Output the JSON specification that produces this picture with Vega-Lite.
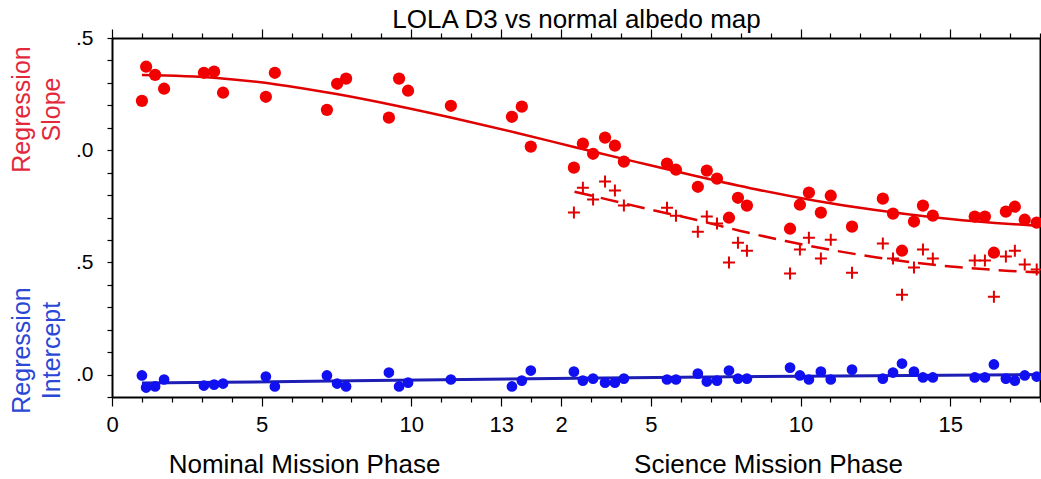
{
  "$schema": "https://vega.github.io/schema/vega-lite/v6.json",
  "autosize": {"type": "none"},
  "padding": {"left": 112, "top": 38, "right": 1, "bottom": 82},
  "width": 928,
  "height": 359,
  "config": {
    "view": {"stroke": null},
    "font": "Liberation Sans",
    "axis": {"domainColor": "black", "domainWidth": 2, "tickColor": "black", "tickWidth": 1.2, "labelColor": "black", "grid": false, "labelFont": "Liberation Sans", "titleFont": "Liberation Sans", "titleFontWeight": "normal", "titleColor": "black"}
  },
  "datasets": {
    "obs": [
      {"t": 1.00, "slope": 1.220, "intercept": -0.004},
      {"t": 1.14, "slope": 1.372, "intercept": -0.058},
      {"t": 1.44, "slope": 1.336, "intercept": -0.053},
      {"t": 1.74, "slope": 1.274, "intercept": -0.022},
      {"t": 3.07, "slope": 1.345, "intercept": -0.049},
      {"t": 3.41, "slope": 1.350, "intercept": -0.045},
      {"t": 3.71, "slope": 1.256, "intercept": -0.040},
      {"t": 5.14, "slope": 1.238, "intercept": -0.009},
      {"t": 5.44, "slope": 1.345, "intercept": -0.053},
      {"t": 7.18, "slope": 1.180, "intercept": -0.004},
      {"t": 7.52, "slope": 1.296, "intercept": -0.040},
      {"t": 7.82, "slope": 1.319, "intercept": -0.053},
      {"t": 9.25, "slope": 1.145, "intercept": 0.009},
      {"t": 9.59, "slope": 1.319, "intercept": -0.053},
      {"t": 9.89, "slope": 1.265, "intercept": -0.036},
      {"t": 11.32, "slope": 1.198, "intercept": -0.022},
      {"t": 13.36, "slope": 1.149, "intercept": -0.053},
      {"t": 13.69, "slope": 1.194, "intercept": -0.027},
      {"t": 13.99, "slope": 1.016, "intercept": 0.018},
      {"t": 15.43, "slope": 0.922, "slope2": 0.722, "intercept": 0.013},
      {"t": 15.73, "slope": 1.029, "slope2": 0.833, "intercept": -0.027},
      {"t": 16.07, "slope": 0.984, "slope2": 0.780, "intercept": -0.018},
      {"t": 16.47, "slope": 1.056, "slope2": 0.860, "intercept": -0.036},
      {"t": 16.80, "slope": 1.020, "slope2": 0.820, "intercept": -0.036},
      {"t": 17.10, "slope": 0.949, "slope2": 0.753, "intercept": -0.018},
      {"t": 18.54, "slope": 0.940, "slope2": 0.744, "intercept": -0.022},
      {"t": 18.84, "slope": 0.913, "slope2": 0.708, "intercept": -0.022},
      {"t": 19.57, "slope": 0.837, "slope2": 0.637, "intercept": 0.004},
      {"t": 19.87, "slope": 0.909, "slope2": 0.704, "intercept": -0.031},
      {"t": 20.21, "slope": 0.873, "slope2": 0.673, "intercept": -0.027},
      {"t": 20.61, "slope": 0.699, "slope2": 0.499, "intercept": 0.018},
      {"t": 20.91, "slope": 0.788, "slope2": 0.588, "intercept": -0.018},
      {"t": 21.21, "slope": 0.753, "slope2": 0.552, "intercept": -0.018},
      {"t": 22.65, "slope": 0.650, "slope2": 0.450, "intercept": 0.031},
      {"t": 22.98, "slope": 0.757, "slope2": 0.557, "intercept": -0.004},
      {"t": 23.28, "slope": 0.811, "slope2": 0.610, "intercept": -0.022},
      {"t": 23.68, "slope": 0.722, "slope2": 0.517, "intercept": 0.013},
      {"t": 24.01, "slope": 0.797, "slope2": 0.601, "intercept": -0.022},
      {"t": 24.72, "slope": 0.659, "slope2": 0.454, "intercept": 0.022},
      {"t": 25.75, "slope": 0.784, "slope2": 0.584, "intercept": -0.018},
      {"t": 26.09, "slope": 0.717, "slope2": 0.517, "intercept": 0.009},
      {"t": 26.39, "slope": 0.552, "slope2": 0.356, "intercept": 0.049},
      {"t": 26.79, "slope": 0.682, "slope2": 0.477, "intercept": 0.013},
      {"t": 27.09, "slope": 0.753, "slope2": 0.557, "intercept": -0.013},
      {"t": 27.42, "slope": 0.708, "slope2": 0.517, "intercept": -0.013},
      {"t": 28.82, "slope": 0.704, "slope2": 0.508, "intercept": -0.013},
      {"t": 29.16, "slope": 0.704, "slope2": 0.508, "intercept": -0.013},
      {"t": 29.46, "slope": 0.543, "slope2": 0.347, "intercept": 0.045},
      {"t": 29.86, "slope": 0.726, "slope2": 0.526, "intercept": -0.018},
      {"t": 30.16, "slope": 0.748, "slope2": 0.552, "intercept": -0.027},
      {"t": 30.49, "slope": 0.690, "slope2": 0.490, "intercept": -0.004},
      {"t": 30.89, "slope": 0.677, "slope2": 0.468, "intercept": -0.009}
    ],
    "slopefit": [
      {"t": 1.0, "v": 1.335}, {"t": 3.5, "v": 1.322}, {"t": 5.5, "v": 1.293}, {"t": 7.5, "v": 1.250},
      {"t": 9.5, "v": 1.198}, {"t": 11.5, "v": 1.140}, {"t": 13.5, "v": 1.078}, {"t": 15.5, "v": 1.012},
      {"t": 17.5, "v": 0.948}, {"t": 19.5, "v": 0.885}, {"t": 21.5, "v": 0.826}, {"t": 23.5, "v": 0.775},
      {"t": 25.5, "v": 0.733}, {"t": 27.5, "v": 0.700}, {"t": 29.5, "v": 0.676}, {"t": 31.0, "v": 0.662}
    ],
    "slope2fit": [
      {"t": 15.45, "v": 0.815}, {"t": 16.5, "v": 0.782}, {"t": 18.0, "v": 0.735}, {"t": 19.5, "v": 0.690},
      {"t": 21.0, "v": 0.640}, {"t": 22.5, "v": 0.595}, {"t": 24.0, "v": 0.556}, {"t": 25.5, "v": 0.523},
      {"t": 27.0, "v": 0.496}, {"t": 28.5, "v": 0.476}, {"t": 30.0, "v": 0.462}, {"t": 31.0, "v": 0.455}
    ],
    "interceptfit": [
      {"t": 1.0, "v": -0.038}, {"t": 8.0, "v": -0.028}, {"t": 15.5, "v": -0.016}, {"t": 23.0, "v": -0.007}, {"t": 31.0, "v": 0.0}
    ]
  },
  "resolve": {"axis": {"x": "independent", "y": "independent"}},
  "layer": [
    {
      "data": {"name": "slopefit"},
      "mark": {"type": "line", "color": "#e00000", "strokeWidth": 2.5, "interpolate": "monotone"},
      "encoding": {
        "x": {"field": "t", "type": "quantitative", "scale": {"domain": [0, 31], "nice": false, "zero": false}, "axis": null},
        "y": {"field": "v", "type": "quantitative", "scale": {"domain": [-0.1, 1.5], "nice": false, "zero": false}, "axis": null}
      }
    },
    {
      "data": {"name": "slope2fit"},
      "mark": {"type": "line", "color": "#e00000", "strokeWidth": 2.5, "strokeDash": [18, 9], "interpolate": "monotone"},
      "encoding": {
        "x": {"field": "t", "type": "quantitative", "scale": {"domain": [0, 31], "nice": false, "zero": false}, "axis": null},
        "y": {"field": "v", "type": "quantitative", "scale": {"domain": [-0.1, 1.5], "nice": false, "zero": false}, "axis": null}
      }
    },
    {
      "data": {"name": "interceptfit"},
      "mark": {"type": "line", "color": "#1e1eb4", "strokeWidth": 3, "interpolate": "monotone"},
      "encoding": {
        "x": {"field": "t", "type": "quantitative", "scale": {"domain": [0, 31], "nice": false, "zero": false}, "axis": null},
        "y": {"field": "v", "type": "quantitative", "scale": {"domain": [-0.1, 1.5], "nice": false, "zero": false}, "axis": null}
      }
    },
    {
      "data": {"name": "obs"},
      "mark": {"type": "circle", "color": "#f20000", "size": 150, "opacity": 1},
      "encoding": {
        "x": {"field": "t", "type": "quantitative", "scale": {"domain": [0, 31], "nice": false, "zero": false},
          "axis": {"orient": "bottom", "values": [0,1,2,3,4,5,6,7,8,9,10,11,12,13,14,15,16,17,18,19,20,21,22,23,24,25,26,27,28,29,30,31],
            "labelExpr": "indexof([0,5,10,13], datum.value) >= 0 ? '' + datum.value : (indexof([15,18,23,28], datum.value) >= 0 ? '' + (datum.value - 13) : '')",
            "labelFontSize": 22, "labelFlush": false, "labelOverlap": false, "labelPadding": 8,
            "tickSize": {"condition": {"test": "indexof([0,5,10,13,15,18,23,28], datum.value) >= 0", "value": 9}, "value": 5},
            "title": "Nominal Mission Phase", "titleFontSize": 26, "titleX": 192, "titleY": 75, "titleAlign": "center", "titleBaseline": "alphabetic", "titleAngle": 0}},
        "y": {"field": "slope", "type": "quantitative", "scale": {"domain": [-0.1, 1.5], "nice": false, "zero": false},
          "axis": {"orient": "left", "values": [-0.1,0,0.1,0.2,0.3,0.4,0.5,0.6,0.7,0.8,0.9,1,1.1,1.2,1.3,1.4,1.5],
            "labelExpr": "(datum.value == 1.5 || datum.value == 0.5) ? '.5' : ((datum.value == 1 || datum.value == 0) ? '.0' : '')",
            "labelFontSize": 21, "labelOverlap": false, "tickSize": 5, "labelPadding": 14,
            "title": ["Regression", "Slope"], "titleColor": "#e3283c", "titleFontSize": 25, "titleLineHeight": 30,
            "titleX": -91, "titleY": 71, "titleAngle": -90, "titleAlign": "center", "titleBaseline": "middle"}}
      }
    },
    {
      "data": {"name": "obs"},
      "mark": {"type": "circle", "color": "#1010f0", "size": 115, "opacity": 1},
      "encoding": {
        "x": {"field": "t", "type": "quantitative", "scale": {"domain": [0, 31], "nice": false, "zero": false},
          "axis": {"orient": "bottom", "domain": false, "ticks": false, "labels": false,
            "title": "Science Mission Phase", "titleFontSize": 26, "titleX": 656, "titleY": 75, "titleAlign": "center", "titleBaseline": "alphabetic", "titleAngle": 0}},
        "y": {"field": "intercept", "type": "quantitative", "scale": {"domain": [-0.1, 1.5], "nice": false, "zero": false},
          "axis": {"orient": "left", "domain": false, "ticks": false, "labels": false,
            "title": ["Regression", "Intercept"], "titleColor": "#2a47d6", "titleFontSize": 25, "titleLineHeight": 30,
            "titleX": -91, "titleY": 312, "titleAngle": -90, "titleAlign": "center", "titleBaseline": "middle"}}
      }
    },
    {
      "data": {"name": "obs"},
      "transform": [{"filter": "isValid(datum.slope2)"}],
      "mark": {"type": "point", "shape": "M-1,0H1M0,-1V1", "filled": false, "color": "#e00000", "strokeWidth": 2, "size": 144, "opacity": 1},
      "encoding": {
        "x": {"field": "t", "type": "quantitative", "scale": {"domain": [0, 31], "nice": false, "zero": false},
          "axis": {"orient": "top", "values": [0,1,2,3,4,5,6,7,8,9,10,11,12,13,14,15,16,17,18,19,20,21,22,23,24,25,26,27,28,29,30,31],
            "labels": false,
            "tickSize": {"condition": {"test": "indexof([0,5,10,13,15,18,23,28], datum.value) >= 0", "value": 9}, "value": 5},
            "title": "LOLA D3 vs normal albedo map", "titleFontSize": 26, "titleX": 464, "titleY": -11, "titleAlign": "center", "titleBaseline": "alphabetic", "titleAngle": 0}},
        "y": {"field": "slope2", "type": "quantitative", "scale": {"domain": [-0.1, 1.5], "nice": false, "zero": false},
          "axis": {"orient": "right", "values": [-0.1,0,0.1,0.2,0.3,0.4,0.5,0.6,0.7,0.8,0.9,1,1.1,1.2,1.3,1.4,1.5],
            "labels": false, "title": null, "tickSize": 5}}
      }
    }
  ]
}
